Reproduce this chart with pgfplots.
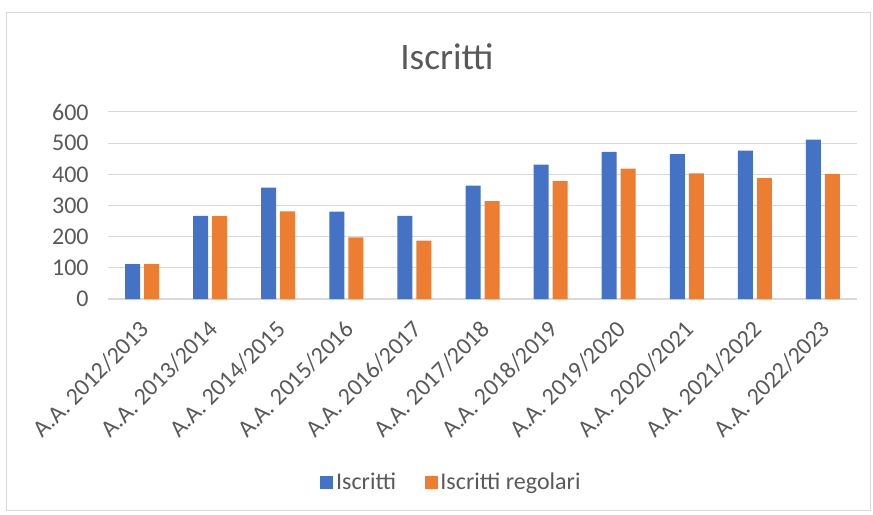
\documentclass[border=0pt]{standalone}
\usepackage{fontspec}
\setmainfont{Carlito}
\usepackage{pgfplots}
\pgfplotsset{compat=1.18}
\definecolor{xblue}{HTML}{4472C4}
\definecolor{xorange}{HTML}{ED7D31}
\definecolor{gridc}{HTML}{D9D9D9}
\definecolor{txt}{HTML}{595959}
\begin{document}
\begin{tikzpicture}
\path[use as bounding box] (0pt,0pt) rectangle (654.75pt,385.5pt);
\draw[gridc, line width=0.75pt] (4.5pt,3pt) rectangle (652.5pt,375.75pt);
\node[text=txt, font=\fontsize{28}{32}\selectfont] at (335.25pt,342.75pt) {Iscritti};
\begin{axis}[
  at={(81pt,161.25pt)}, anchor=south west,
  scale only axis, width=561.75pt, height=140.25pt,
  xmin=-0.5, xmax=10.5, ymin=0, ymax=600,
  ytick={0,100,...,600},
  xtick={0,...,10},
  xticklabels={A.A. 2012/2013,A.A. 2013/2014,A.A. 2014/2015,A.A. 2015/2016,A.A. 2016/2017,A.A. 2017/2018,A.A. 2018/2019,A.A. 2019/2020,A.A. 2020/2021,A.A. 2021/2022,A.A. 2022/2023},
  axis lines*=left,
  y axis line style={draw=none},
  x axis line style={draw=gridc, line width=1pt, -},
  major tick length=0pt,
  ymajorgrids, grid style={gridc, line width=0.75pt},
  ybar=3pt, bar width=11.25pt,
  ticklabel style={font=\fontsize{18}{20}\selectfont, text=txt},
  /pgf/number format/assume math mode=true,
  yticklabel style={xshift=-11pt},
  xticklabel style={rotate=45, anchor=east, xshift=-8.85pt, yshift=-15.55pt},
  legend style={at={(0.459,-0.979)}, anchor=center, draw=none, fill=none,
    legend columns=2, font=\fontsize{18}{20}\selectfont, text=txt,
    /tikz/every even column/.append style={column sep=19.5pt}},
  legend image code/.code={\fill[#1] (0pt,-4.9pt) rectangle (9.75pt,4.9pt);},
]
\addplot[fill=xblue, draw=none] coordinates {(0,112) (1,267) (2,357) (3,280) (4,267) (5,364) (6,431) (7,472) (8,465) (9,476) (10,511)};
\addplot[fill=xorange, draw=none] coordinates {(0,112) (1,266) (2,281) (3,198) (4,187) (5,314) (6,379) (7,418) (8,403) (9,388) (10,401)};
\legend{Iscritti, Iscritti regolari}
\end{axis}
\end{tikzpicture}
\end{document}
